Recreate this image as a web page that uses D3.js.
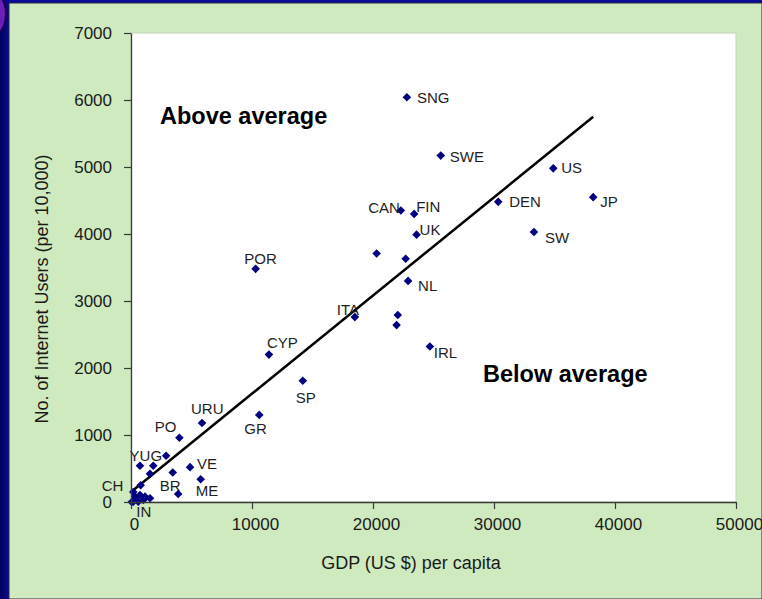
<!DOCTYPE html>
<html>
<head>
<meta charset="utf-8">
<script src="https://cdn.jsdelivr.net/npm/d3@7"></script>
<style>
  body { margin: 0; background: #0a0a9c; }
  svg { display: block; font-family: "Liberation Sans", Arial, sans-serif; }
</style>
</head>
<body>
<div id="wrapper"></div>
<script>
// country codes as printed on the chart ("" = unlabelled point)
const countries = [
  "SNG", "SWE", "US", "DEN", "JP", "SW", "CAN", "FIN", "UK", "", "",
  "NL", "POR", "ITA", "", "", "IRL", "CYP", "SP", "GR", "URU", "PO",
  "YUG", "", "", "", "BR", "VE", "ME", "", "", "CH", "", "", "", "",
  "", "IN", "", ""
];
// GDP (US $) per capita
const gdp = [
  22800, 25600, 34900, 30350, 38200, 33300, 22300, 23400, 23600, 20300, 22700,
  22900, 10300, 18500, 22050, 21950, 24700, 11400, 14200, 10600, 5870, 4000,
  2900, 740, 1840, 1570, 3450, 4880, 5760, 3900, 800, 190, 330, 740, 1160, 1570,
  190, 600, 1020, 60
];
// No. of Internet users per 10,000
const users = [
  6040, 5170, 4980, 4480, 4550, 4030, 4350, 4300, 3990, 3710, 3630,
  3300, 3480, 2760, 2790, 2640, 2320, 2200, 1810, 1300, 1180, 960,
  690, 540, 540, 420, 440, 520, 340, 120, 250, 150, 80, 105, 80, 55,
  5, 5, 30, 0
];
// trend line ends
const trendGdp = [0, 38200];
const trendUsers = [150, 5750];

const xTicks = [0, 10000, 20000, 30000, 40000, 50000];
const yTicks = [0, 1000, 2000, 3000, 4000, 5000, 6000, 7000];

const X_LABEL = "GDP (US $) per capita";
const Y_LABEL = "No. of Internet Users (per 10,000)";

// hand placed label offsets, in px from the marker
const labelPlacement = {
  SNG: [10, 6, "start"], SWE: [9, 6, "start"], US: [8, 5, "start"],
  DEN: [11, 5, "start"], JP: [7, 10, "start"], SW: [11, 11, "start"],
  CAN: [-1, 2, "end"], FIN: [2, -2, "start"], UK: [3, 0, "start"],
  NL: [10, 10, "start"], POR: [5, -5, "middle"], ITA: [-18, -2, "start"],
  IRL: [4, 11, "start"], CYP: [-2, -7, "start"], SP: [-7, 22, "start"],
  GR: [-15, 19, "start"], URU: [-11, -9, "start"], PO: [-3, -6, "end"],
  YUG: [-4, 5, "end"], BR: [-13, 18, "start"], VE: [7, 2, "start"],
  ME: [-5, 17, "start"], CH: [-10, -1, "end"], IN: [-2, 15, "start"]
};

const data = countries.map((c, i) => ({ name: c, gdp: gdp[i], users: users[i] }));
const xAccessor = d => d.gdp;
const yAccessor = d => d.users;

const dimensions = {
  width: 762,
  height: 599,
  margin: { top: 33, right: 26, bottom: 97, left: 131 }
};
dimensions.boundedWidth = dimensions.width
  - dimensions.margin.left
  - dimensions.margin.right;
dimensions.boundedHeight = dimensions.height
  - dimensions.margin.top
  - dimensions.margin.bottom;

const wrapper = d3.select("#wrapper")
  .append("svg")
  .attr("width", dimensions.width)
  .attr("height", dimensions.height);

// slide background
const defs = wrapper.append("defs");
const grad = defs.append("linearGradient").attr("id", "slide");
grad.append("stop").attr("offset", "0%").attr("stop-color", "#00005a");
grad.append("stop").attr("offset", "1.2%").attr("stop-color", "#0a0a9c");
grad.append("stop").attr("offset", "100%").attr("stop-color", "#0a0a9c");
wrapper.append("rect")
  .attr("width", dimensions.width).attr("height", dimensions.height)
  .attr("fill", "url(#slide)");
wrapper.append("ellipse")
  .attr("cx", -8).attr("cy", 14).attr("rx", 14).attr("ry", 22)
  .attr("fill", "#6a1fb8").attr("stroke", "#1a0050").attr("stroke-width", 2);

// green chart panel
wrapper.append("rect")
  .attr("x", 9).attr("y", 3)
  .attr("width", dimensions.width - 9).attr("height", dimensions.height - 3)
  .attr("fill", "#cfeabe")
  .attr("stroke", "#2a2a3a").attr("stroke-width", 1);

const bounds = wrapper.append("g")
  .attr("transform", `translate(${dimensions.margin.left},${dimensions.margin.top})`);

// plot area
bounds.append("rect")
  .attr("width", dimensions.boundedWidth)
  .attr("height", dimensions.boundedHeight)
  .attr("fill", "#ffffff")
  .attr("stroke", "#c4d6bc");

const xScale = d3.scaleLinear()
  .domain([0, 50000])
  .range([0, dimensions.boundedWidth]);

const yScale = d3.scaleLinear()
  .domain([0, 7000])
  .range([dimensions.boundedHeight, 0]);

// trend line
const trend = trendGdp.map((g, i) => [g, trendUsers[i]]);
bounds.append("path")
  .datum(trend)
  .attr("d", d3.line().x(d => xScale(d[0])).y(d => yScale(d[1])))
  .attr("fill", "none")
  .attr("stroke", "#000")
  .attr("stroke-width", 2.5);

// markers: square turned 45deg
const diamond = d3.symbol(d3.symbolSquare, 37);
bounds.selectAll("path.dot")
  .data(data)
  .join("path")
  .attr("class", "dot")
  .attr("d", diamond)
  .attr("transform", d => `translate(${xScale(xAccessor(d))},${yScale(yAccessor(d))}) rotate(45)`)
  .attr("fill", "#000080");

bounds.selectAll("text.country")
  .data(data.filter(d => d.name !== ""))
  .join("text")
  .attr("class", "country")
  .attr("x", d => xScale(xAccessor(d)) + labelPlacement[d.name][0])
  .attr("y", d => yScale(yAccessor(d)) + labelPlacement[d.name][1])
  .attr("text-anchor", d => labelPlacement[d.name][2])
  .attr("fill", "#1e1e1e")
  .style("font-size", "15px")
  .text(d => d.name);

// axes
const xAxisGenerator = d3.axisBottom(xScale)
  .tickValues(xTicks)
  .tickFormat(d3.format("d"))
  .tickSize(7)
  .tickSizeOuter(0)
  .tickPadding(9);

const xAxis = bounds.append("g")
  .attr("transform", `translate(0,${dimensions.boundedHeight})`)
  .call(xAxisGenerator);

xAxis.selectAll("text").attr("dx", 3);

const yAxisGenerator = d3.axisLeft(yScale)
  .tickValues(yTicks)
  .tickFormat(d3.format("d"))
  .tickSize(7)
  .tickSizeOuter(0)
  .tickPadding(12);

const yAxis = bounds.append("g")
  .call(yAxisGenerator);

[xAxis, yAxis].forEach(a => {
  a.select(".domain").attr("stroke", "#3a3a3a").attr("stroke-width", 1.3);
  a.selectAll(".tick line").attr("stroke", "#3a3a3a").attr("stroke-width", 1.2);
  a.selectAll(".tick text")
    .attr("fill", "#1a1a1a")
    .style("font-size", "17px")
    .style("font-family", "Liberation Sans, Arial, sans-serif");
});

// axis titles
wrapper.append("text")
  .attr("x", 411)
  .attr("y", 569)
  .attr("text-anchor", "middle")
  .attr("fill", "#1a1a1a")
  .style("font-size", "18px")
  .text(X_LABEL);

wrapper.append("text")
  .attr("transform", "translate(48,289) rotate(-90)")
  .attr("text-anchor", "middle")
  .attr("fill", "#1a1a1a")
  .style("font-size", "18px")
  .text(Y_LABEL);

// region notes
wrapper.append("text")
  .attr("x", 160).attr("y", 124)
  .style("font-size", "23.5px").style("font-weight", "bold")
  .attr("fill", "#000")
  .text("Above average");

wrapper.append("text")
  .attr("x", 483).attr("y", 382)
  .style("font-size", "23.5px").style("font-weight", "bold")
  .attr("fill", "#000")
  .text("Below average");
</script>
</body>
</html>
